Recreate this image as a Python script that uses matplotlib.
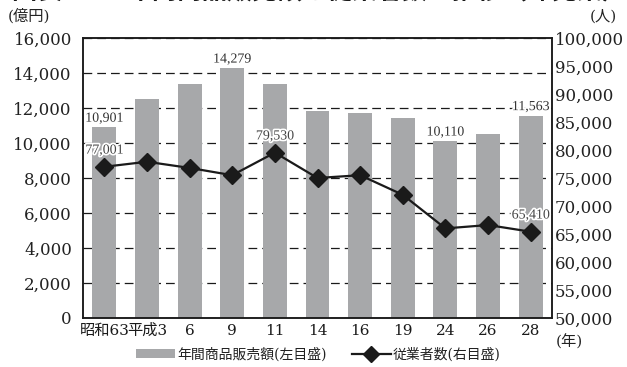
import matplotlib
matplotlib.use("Agg")
import matplotlib.pyplot as plt
import matplotlib.patheffects as pe
from matplotlib.ticker import FuncFormatter, MultipleLocator
from matplotlib.lines import Line2D
from matplotlib.patches import Patch

plt.rcParams['font.family'] = ['DejaVu Serif', 'Noto Sans CJK JP']

# 調査年（昭和63年～平成28年）
years = ['昭和63', '平成3', '6', '9', '11', '14', '16', '19', '24', '26', '28']
# 年間商品販売額（億円、左目盛）
sales = [10901, 12510, 13370, 14279, 13370, 11850, 11730, 11450, 10110, 10510, 11563]
# 従業者数（人、右目盛）
employees = [77001, 77900, 76800, 75500, 79530, 75000, 75500, 72000, 66000, 66600, 65410]
# 数値を表示する年の位置
sales_labelled = [0, 3, 8, 10]
employees_labelled = [0, 4, 10]

title = '図表3　　年間商品販売額と従業者数の推移（卸売業）'
legend_labels = ['年間商品販売額(左目盛)', '従業者数(右目盛)']

BAR = '#a7a8aa'
INK = '#1a1a1a'

W, H = 627, 367
fig = plt.figure(figsize=(W / 100, H / 100), dpi=100)
ax = fig.add_axes([83 / W, 1 - 318 / H, (552 - 83) / W, (318 - 38) / H])

x = list(range(len(years)))
ax.bar(x, sales, width=0.56, color=BAR, zorder=2)
ax.set_xlim(-0.5, len(years) - 0.5)
ax.set_ylim(0, 16000)
ax.yaxis.set_major_locator(MultipleLocator(2000))
ax.yaxis.set_major_formatter(FuncFormatter(lambda v, p: f'{int(v):,}'))
ax.set_axisbelow(True)
ax.yaxis.grid(True, linestyle=(0, (7, 4)), color=INK, linewidth=0.9)
ax.set_xticks(x)
ax.set_xticklabels(years, fontsize=11)
ax.tick_params(axis='x', length=0, pad=4, colors=INK)
ax.tick_params(axis='y', length=0, pad=8, labelsize=12, colors='#222222')

halo = [pe.withStroke(linewidth=2.5, foreground='white')]
for i in sales_labelled:
    ax.annotate(f'{sales[i]:,}', (i, sales[i]), xytext=(0, 6.5),
                textcoords='offset points', ha='center', va='center',
                fontsize=10, family=['Liberation Serif', 'DejaVu Serif'],
                color='#333333', path_effects=halo, zorder=5)

ax2 = ax.twinx()
ax2.set_ylim(50000, 100000)
ax2.yaxis.set_major_locator(MultipleLocator(5000))
ax2.yaxis.set_major_formatter(FuncFormatter(lambda v, p: f'{int(v):,}'))
ax2.tick_params(axis='y', length=0, pad=2, labelsize=12, colors='#222222')
ax2.plot(x, employees, color=INK, linewidth=1.6, marker='D', markersize=9,
         markerfacecolor=INK, markeredgecolor=INK, zorder=4)
for i in employees_labelled:
    ax2.annotate(f'{employees[i]:,}', (i, employees[i]), xytext=(0, 12),
                 textcoords='offset points', ha='center', va='center',
                 fontsize=10, family=['Liberation Serif', 'DejaVu Serif'],
                 color='#444444', path_effects=halo, zorder=5)

for a in (ax, ax2):
    for s in a.spines.values():
        s.set_color(INK)
        s.set_linewidth(1.1)

# 見出し（上端で切れた状態）と単位
fig.text(12 / W, 1 + 0.5 / H, title, fontsize=18, fontweight='bold',
         family=['Noto Sans CJK JP'], va='baseline', ha='left', color=INK)
fig.text(8 / W, 1 - 16 / H, '(億円)', fontsize=11, va='center', ha='left', color='#222222')
fig.text(617 / W, 1 - 16 / H, '(人)', fontsize=11, va='center', ha='right', color='#222222')
fig.text(556 / W, 1 - 342 / H, '(年)', fontsize=11, va='center', ha='left', color='#222222')

handles = [Patch(facecolor=BAR, edgecolor='none'),
           Line2D([], [], color=INK, linewidth=1.6, marker='D', markersize=8)]
fig.legend(handles, legend_labels, loc='center', bbox_to_anchor=(0.508, 1 - 354 / H),
           ncol=2, frameon=False, fontsize=10, handlelength=2.8, handleheight=0.6,
           handletextpad=0.15, columnspacing=1.8, borderpad=0, labelcolor='#222222')

fig.savefig('out.png', dpi=100)
